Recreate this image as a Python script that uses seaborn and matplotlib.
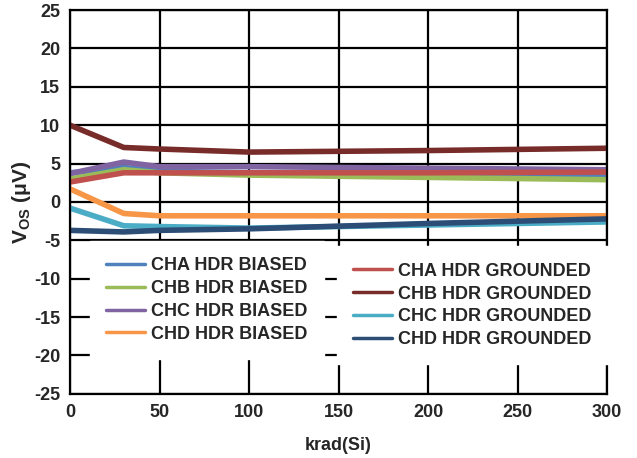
import pandas as pd
import matplotlib
matplotlib.use("Agg")
import matplotlib.pyplot as plt
from matplotlib.lines import Line2D
import seaborn as sns

krad = [0, 30, 50, 100, 200, 300]

cha_biased = [3.8, 4.5, 4.0, 3.8, 3.7, 3.5]
chb_biased = [3.0, 4.2, 3.8, 3.5, 3.2, 2.9]
chc_biased = [3.7, 5.2, 4.6, 4.6, 4.4, 4.2]
chd_biased = [1.7, -1.5, -1.8, -1.8, -1.8, -1.8]
cha_grounded = [2.6, 3.8, 3.8, 3.8, 3.8, 3.9]
chb_grounded = [10.0, 7.1, 6.9, 6.5, 6.7, 7.0]
chc_grounded = [-0.8, -3.1, -3.2, -3.4, -3.0, -2.6]
chd_grounded = [-3.7, -3.9, -3.7, -3.5, -2.8, -2.2]

series = {
    "CHA HDR BIASED": cha_biased,
    "CHB HDR BIASED": chb_biased,
    "CHC HDR BIASED": chc_biased,
    "CHD HDR BIASED": chd_biased,
    "CHA HDR GROUNDED": cha_grounded,
    "CHB HDR GROUNDED": chb_grounded,
    "CHC HDR GROUNDED": chc_grounded,
    "CHD HDR GROUNDED": chd_grounded,
}
colors = ["#4F81BD", "#9BBB59", "#8064A2", "#F79646",
          "#C0504D", "#772C2A", "#4BACC6", "#2C4D75"]

rows = []
for name, vals in series.items():
    for x, v in zip(krad, vals):
        rows.append({"krad": x, "vos": v, "series": name})
df = pd.DataFrame(rows)

sns.set_style("white")
plt.rcParams["font.family"] = ["Liberation Sans", "DejaVu Sans"]
plt.rcParams["font.weight"] = "bold"
plt.rcParams["axes.unicode_minus"] = False
plt.rcParams["mathtext.fontset"] = "custom"
plt.rcParams["mathtext.rm"] = "Liberation Sans:bold"
plt.rcParams["mathtext.bf"] = "Liberation Sans:bold"

fig = plt.figure(figsize=(6.37, 4.58), dpi=100)
ax = fig.add_axes([0.110, 0.140, 0.843, 0.838])

names = list(series.keys())
sns.lineplot(data=df, x="krad", y="vos", hue="series", hue_order=names,
             palette=colors, linewidth=4, legend=False, ax=ax)

ax.set_xlim(0, 300)
ax.set_ylim(-25, 25)
ax.set_xticks(range(0, 301, 50))
ax.set_yticks(range(-25, 26, 5))
ax.grid(True, color="black", linewidth=1.6)
for s in ax.spines.values():
    s.set_color("black")
    s.set_linewidth(1.6)
    s.set_visible(True)
ax.tick_params(length=0, labelsize=13, pad=7)
for lab in ax.get_xticklabels() + ax.get_yticklabels():
    lab.set_fontweight("bold")

ax.set_xlabel("krad(Si)", fontsize=13, fontweight="bold", labelpad=12)
ax.set_ylabel(r"V$_{\mathbf{OS}}$ (μV)", fontsize=15, fontweight="bold", labelpad=1)

def make_legend(labels, cols, anchor):
    handles = [Line2D([0], [0], color=c, lw=2.5) for c in cols]
    return ax.legend(handles, labels, loc="upper left", bbox_to_anchor=anchor,
                     frameon=True, framealpha=1, facecolor="white", edgecolor="white",
                     fancybox=False, borderpad=0.9, labelspacing=0.32,
                     handlelength=2.15, handletextpad=0.35, borderaxespad=0,
                     prop={"size": 13, "weight": "bold"})

leg1 = make_legend(names[:4], colors[:4], (0.037, 0.398))
ax.add_artist(leg1)
leg2 = make_legend(names[4:], colors[4:], (0.497, 0.384))

fig.savefig("out.png", dpi=100)
